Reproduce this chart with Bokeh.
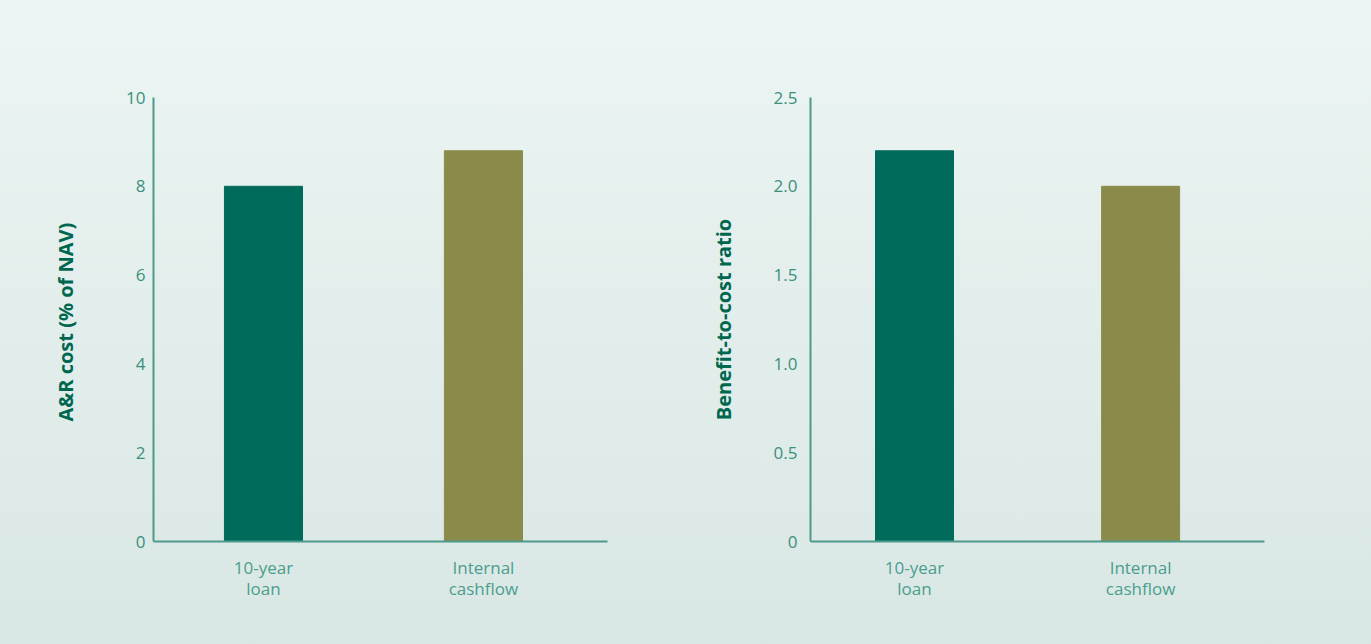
from bokeh.plotting import figure
from bokeh.layouts import row
from bokeh.models import FixedTicker, Range1d, NumeralTickFormatter, ColumnDataSource
from bokeh.embed import file_html
from bokeh.resources import INLINE

# Financing options compared in both panels
categories = ["10-year\nloan", "Internal\ncashflow"]
cost_pct_nav = [8.0, 8.8]
benefit_cost_ratio = [2.2, 2.0]
bar_colors = ["#006b5a", "#8a8a4a"]

cost_ticks = [0, 2, 4, 6, 8, 10]
ratio_ticks = [0, 0.5, 1.0, 1.5, 2.0, 2.5]

AXIS_COLOR = "#4d9a8b"
TICK_TEXT = "#3b8f7e"
TITLE_TEXT = "#00674f"
CAT_TEXT = "#4a9e8e"


def bar_panel(values, y_max, y_ticks, y_label, x_start, x_end, bar_width, left, right,
              label_standoff, tick_standoff, zero_fmt=None):
    xs = [0.5 + i for i in range(len(categories))]
    src = ColumnDataSource(dict(x=xs, top=values, color=bar_colors))
    p = figure(
        frame_width=454, frame_height=444,
        min_border_left=left, min_border_right=right,
        min_border_top=97, min_border_bottom=103,
        x_range=Range1d(x_start, x_end), y_range=Range1d(0, y_max),
        output_backend="svg", toolbar_location=None,
    )
    p.vbar(x="x", top="top", width=bar_width, color="color", source=src)

    p.background_fill_alpha = 0
    p.border_fill_alpha = 0
    p.outline_line_color = None
    p.grid.grid_line_color = None

    for ax in (p.xaxis[0], p.yaxis[0]):
        ax.axis_line_color = AXIS_COLOR
        ax.axis_line_width = 2
        ax.major_tick_line_color = None
        ax.minor_tick_line_color = None
        ax.major_tick_out = 0
        ax.major_tick_in = 0
        ax.major_label_text_font = "Open Sans"
        ax.major_label_text_font_size = "17px"

    yax = p.yaxis[0]
    yax.ticker = FixedTicker(ticks=y_ticks)
    if zero_fmt:
        yax.formatter = NumeralTickFormatter(format=zero_fmt)
        yax.major_label_overrides = {0: "0"}
    yax.major_label_text_color = TICK_TEXT
    yax.major_label_standoff = tick_standoff
    yax.axis_label = y_label
    yax.axis_label_text_font = "Open Sans"
    yax.axis_label_text_font_style = "bold"
    yax.axis_label_text_font_size = "20px"
    yax.axis_label_text_color = TITLE_TEXT
    yax.axis_label_standoff = label_standoff

    xax = p.xaxis[0]
    xax.ticker = FixedTicker(ticks=xs)
    xax.major_label_overrides = {x: c for x, c in zip(xs, categories)}
    xax.major_label_text_color = CAT_TEXT
    xax.major_label_standoff = 14
    xax.major_label_text_line_height = 0.95
    return p


left_panel = bar_panel(cost_pct_nav, 10, cost_ticks, "A&R  cost (% of NAV)",
                       0.0, 2.064, 0.355, 153, 50, 44, 8)
right_panel = bar_panel(benefit_cost_ratio, 2.5, ratio_ticks, "Benefit-to-cost ratio",
                        0.04, 2.048, 0.345, 153, 107, 34, 13, zero_fmt="0.0")

layout = row(left_panel, right_panel,
             styles={"background": "linear-gradient(#ecf5f3, #d9e7e4)"})

open("out.html", "w").write(file_html(layout, INLINE))
